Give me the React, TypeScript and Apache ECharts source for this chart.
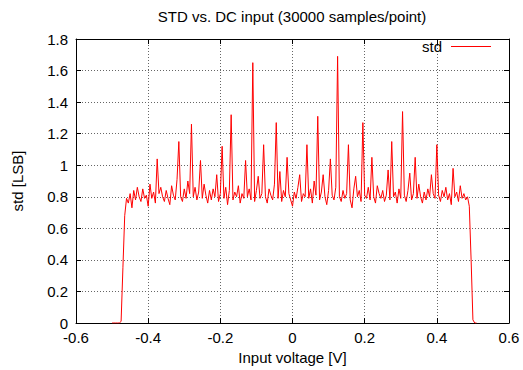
import React, { useEffect, useRef } from "react";
import * as echarts from "echarts";

// Input voltage grid: first point and step [V]
const VOLT_START = -0.5;
const VOLT_STEP = 0.005;

// Measured std [LSB], one value per voltage step from -0.500 V to 0.510 V
const STD_VALUES: number[] = [
  // -0.500 .. -0.455
  0, 0, 0, 0, 0, 0.01, 0.35, 0.68, 0.79, 0.76,
  // -0.450 .. -0.405
  0.82, 0.73, 0.84, 0.78, 0.86, 0.8, 0.77, 0.85, 0.79, 0.81,
  // -0.400 .. -0.355
  0.74, 0.88, 0.79, 0.83, 0.76, 1.04, 0.82, 0.86, 0.8, 0.77,
  // -0.350 .. -0.305
  0.84, 0.79, 0.75, 0.87, 0.81, 0.78, 0.91, 1.15, 0.8, 0.77,
  // -0.300 .. -0.255
  0.85, 0.79, 0.9, 0.82, 1.26, 0.8, 0.86, 0.78, 0.83, 1.03,
  // -0.250 .. -0.205
  0.79, 0.88, 0.81, 0.76, 0.84, 0.78, 0.85, 0.8, 0.94, 0.77,
  // -0.200 .. -0.155
  0.82, 1.12, 0.79, 0.86, 0.75, 0.84, 1.32, 0.78, 0.83, 0.8,
  // -0.150 .. -0.105
  0.87, 0.76, 0.82, 0.79, 1.03, 0.8, 0.85, 0.78, 1.65, 0.77,
  // -0.100 .. -0.055
  0.84, 0.93, 0.79, 0.82, 1.13, 0.8, 0.76, 0.85, 0.81, 0.78,
  // -0.050 .. -0.005
  0.88, 1.27, 0.79, 0.96, 0.77, 0.84, 0.8, 1.05, 0.82, 0.78,
  // 0.000 .. 0.045
  0.74, 0.83, 0.79, 0.86, 0.94, 0.77, 0.82, 0.8, 1.13, 0.79,
  // 0.050 .. 0.095
  0.85, 0.76, 0.9, 0.81, 1.31, 0.78, 0.83, 0.94, 0.8, 0.75,
  // 0.100 .. 0.145
  0.84, 1.04, 0.81, 0.78, 0.86, 1.69, 0.8, 0.77, 0.84, 0.79,
  // 0.150 .. 0.195
  0.82, 1.13, 0.78, 0.73, 0.85, 0.93, 0.8, 0.84, 0.77, 1.27,
  // 0.200 .. 0.245
  0.81, 0.79, 0.86, 0.78, 1.05, 0.8, 0.76, 0.87, 0.82, 0.79,
  // 0.250 .. 0.295
  0.84, 0.77, 0.81, 0.97, 0.78, 1.15, 0.8, 0.83, 0.76, 0.85,
  // 0.300 .. 0.345
  0.79, 1.34, 0.81, 0.77, 0.84, 0.95, 0.78, 0.82, 1.05, 0.79,
  // 0.350 .. 0.395
  0.88, 0.8, 0.76, 0.83, 0.78, 0.85, 0.8, 0.94, 0.82, 0.79,
  // 0.400 .. 0.445
  1.13, 0.81, 0.77, 0.84, 0.8, 0.86, 0.78, 0.82, 0.75, 0.98,
  // 0.450 .. 0.495
  0.8, 0.83, 0.77, 0.87, 0.79, 0.82, 0.78, 0.8, 0.74, 0.4,
  // 0.500 .. 0.510
  0.02, 0, 0,
];

const TITLE = "STD vs. DC input (30000 samples/point)";
const X_NAME = "Input voltage [V]";
const Y_NAME = "std [LSB]";
const SERIES_NAME = "std";

const FONT = "Liberation Sans, Arial, Helvetica, sans-serif";
const FS = 15;

export default function App() {
  const ref = useRef<HTMLDivElement>(null);

  useEffect(() => {
    if (!ref.current) return;
    const chart = echarts.init(ref.current, undefined, { renderer: "svg" });
    const data = STD_VALUES.map((v, i) => [
      +(VOLT_START + i * VOLT_STEP).toFixed(3),
      v,
    ]);
    const fmt = (v: number) => String(Math.round(v * 10) / 10);
    const gridLine = {
      show: true,
      lineStyle: { color: "#666", type: [1, 2] as any, width: 1 },
    };
    const axisLine = { show: true, onZero: false, lineStyle: { color: "#000", width: 1 } };
    const tick = { show: true, inside: true, length: 5, lineStyle: { color: "#000" } };
    const label = { color: "#000", fontSize: FS, fontFamily: FONT };

    chart.setOption({
      animation: false,
      backgroundColor: "#fff",
      textStyle: { fontFamily: FONT },
      title: {
        text: TITLE,
        left: 292,
        top: 9,
        padding: 0,
        textAlign: "center",
        textStyle: { color: "#000", fontSize: FS, fontWeight: "normal", fontFamily: FONT },
      },
      legend: {
        data: [SERIES_NAME],
        right: 32,
        top: 39,
        padding: 0,
        align: "right",
        icon: "rect",
        itemWidth: 40,
        itemHeight: 1,
        textStyle: {
          color: "#000",
          fontSize: FS,
          fontFamily: FONT,
          padding: [0, 4, 0, 0],
        },
      },
      grid: { left: 76, right: 14, top: 39, bottom: 47 },
      xAxis: [
        {
          type: "value",
          min: -0.6,
          max: 0.6,
          interval: 0.2,
          position: "bottom",
          name: X_NAME,
          nameLocation: "middle",
          nameGap: 26,
          nameTextStyle: { color: "#000", fontSize: FS, fontFamily: FONT },
          axisLine,
          axisTick: tick,
          axisLabel: { ...label, margin: 7, formatter: fmt },
          splitLine: gridLine,
        },
        {
          type: "value",
          min: -0.6,
          max: 0.6,
          interval: 0.2,
          position: "top",
          axisLine,
          axisTick: tick,
          axisLabel: { show: false },
          splitLine: { show: false },
        },
      ],
      yAxis: [
        {
          type: "value",
          min: 0,
          max: 1.8,
          interval: 0.2,
          position: "left",
          name: Y_NAME,
          nameLocation: "middle",
          nameGap: 51,
          nameTextStyle: { color: "#000", fontSize: FS, fontFamily: FONT },
          axisLine,
          axisTick: tick,
          axisLabel: { ...label, margin: 8, formatter: fmt },
          splitLine: gridLine,
        },
        {
          type: "value",
          min: 0,
          max: 1.8,
          interval: 0.2,
          position: "right",
          axisLine,
          axisTick: tick,
          axisLabel: { show: false },
          splitLine: { show: false },
        },
      ],
      series: [
        {
          name: SERIES_NAME,
          type: "line",
          xAxisIndex: 0,
          yAxisIndex: 0,
          data,
          symbol: "none",
          showSymbol: false,
          lineStyle: { color: "#ff0000", width: 1 },
          itemStyle: { color: "#ff0000" },
        },
      ],
    });
    return () => chart.dispose();
  }, []);

  return (
    <div
      ref={ref}
      style={{ position: "fixed", left: 0, top: 0, width: 523, height: 370 }}
    />
  );
}
